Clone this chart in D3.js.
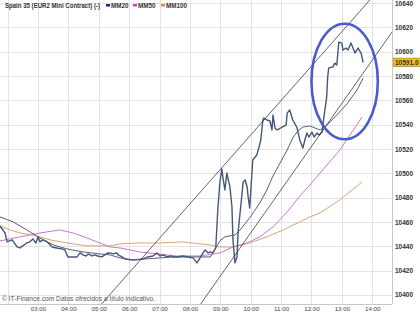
<!DOCTYPE html>
<html>
<head>
<meta charset="utf-8">
<script src="https://cdn.jsdelivr.net/npm/d3@7"></script>
<style>
  body { margin: 0; background: #fff; }
  svg { display: block; font-family: "Liberation Sans", Arial, sans-serif; }
</style>
</head>
<body>
<svg id="chart" width="420" height="315"></svg>
<script>
// price (last) series
const priceTimes = ["01:45","01:55","01:59","02:09","02:19","02:24","02:30","02:38","02:44","02:50","02:56","03:00","03:04","03:10","03:18","03:28","03:37","03:47","03:53","03:59","04:07","04:17","04:23","04:29","04:35","04:39","04:47","04:52","04:58","05:06","05:12","05:18","05:22","05:28","05:36","05:38","05:46","05:52","06:02","06:15","06:27","06:37","06:47","06:55","07:01","07:07","07:15","07:21","07:26","07:36","07:46","07:56","08:06","08:14","08:20","08:26","08:30","08:36","08:40","08:45","08:51","08:55","08:59","09:03","09:05","09:09","09:13","09:15","09:19","09:23","09:25","09:29","09:33","09:35","09:39","09:43","09:45","09:49","09:53","09:55","09:58","10:02","10:04","10:12","10:16","10:20","10:24","10:26","10:32","10:38","10:42","10:44","10:48","10:52","11:02","11:10","11:12","11:17","11:23","11:31","11:37","11:43","11:47","11:51","11:55","12:01","12:05","12:11","12:15","12:21","12:23","12:30","12:32","12:34","12:40","12:42","12:46","12:50","12:54","13:00","13:02","13:08","13:12","13:18","13:22","13:26","13:32","13:38","13:42"];
const priceValues = [10456.7,10450.9,10443.6,10445.2,10439.4,10438.6,10440.3,10442.7,10443.6,10446.0,10442.7,10447.7,10443.6,10445.2,10443.6,10439.4,10438.6,10437.8,10437.0,10431.2,10431.2,10431.2,10434.5,10432.9,10432.0,10433.7,10432.0,10432.9,10432.0,10431.2,10432.9,10434.5,10434.5,10433.7,10434.5,10432.9,10431.2,10429.6,10428.8,10428.8,10429.6,10431.2,10432.0,10434.5,10432.0,10432.9,10431.2,10432.0,10431.2,10431.2,10432.0,10431.2,10430.4,10426.3,10430.4,10434.5,10437.0,10434.5,10435.3,10434.5,10438.6,10469.8,10492.0,10503.5,10497.0,10486.3,10500.2,10496.1,10488.7,10472.3,10445.2,10426.3,10431.2,10450.9,10467.4,10483.8,10492.9,10494.5,10488.7,10480.5,10471.5,10497.0,10510.9,10515.0,10520.8,10527.4,10543.8,10545.4,10543.8,10543.0,10535.6,10547.9,10537.2,10535.6,10538.0,10539.7,10549.5,10552.0,10543.8,10538.0,10527.4,10520.8,10527.4,10533.1,10529.8,10533.9,10529.8,10533.1,10531.5,10533.9,10541.3,10562.7,10579.1,10586.5,10587.3,10587.3,10590.6,10589.0,10607.9,10607.1,10601.3,10603.0,10601.3,10607.1,10603.0,10598.9,10603.0,10598.9,10591.0];

// moving averages
const mm20Times = ["01:45","02:11","02:38","03:04","03:30","03:57","04:29","05:02","05:22","05:42","06:08","06:35","07:01","07:27","08:00","08:40","08:49","08:59","09:09","09:29","09:39","09:58","10:18","10:32","10:44","10:58","11:12","11:23","11:33","11:43","11:57","12:07","12:17","12:31","12:50","13:10","13:30","13:42"];
const mm20Values = [10464.1,10460.0,10453.4,10446.8,10441.1,10437.8,10435.3,10433.7,10432.9,10430.4,10428.8,10429.6,10430.4,10431.2,10431.2,10431.2,10437.0,10444.4,10447.7,10449.3,10453.4,10463.3,10475.6,10486.3,10497.8,10508.5,10519.1,10529.0,10534.8,10538.0,10538.9,10537.2,10535.6,10539.7,10547.9,10557.0,10568.5,10578.3];

const mm50Times = ["01:45","02:25","03:04","03:43","04:09","04:37","05:02","05:22","05:42","06:21","06:55","07:34","08:20","08:59","09:25","09:53","10:18","10:44","11:12","11:37","11:57","12:17","12:56","13:40"];
const mm50Values = [10444.4,10447.7,10450.9,10453.4,10450.9,10446.8,10442.7,10439.4,10438.6,10435.3,10433.7,10432.0,10432.0,10434.5,10439.4,10442.7,10447.7,10455.9,10468.2,10481.3,10490.4,10500.2,10519.1,10546.3];

const mm100Times = ["01:45","02:05","02:25","02:50","03:24","03:57","04:37","05:22","05:42","06:21","07:01","07:46","08:20","08:40","08:59","09:25","09:58","10:32","11:04","11:37","11:57","12:17","12:56","13:40"];
const mm100Values = [10456.7,10453.4,10450.9,10449.3,10445.2,10442.7,10440.3,10440.3,10441.9,10442.7,10442.7,10443.6,10441.9,10441.1,10439.4,10439.4,10442.7,10447.7,10453.4,10460.0,10464.1,10467.4,10478.1,10492.9];

// trend channel lines drawn on the chart
const upperTimes = ["05:04","13:55"];
const upperValues = [10391.8,10642.4];
const lowerTimes = ["08:20","14:39"];
const lowerValues = [10391.8,10616.1];

// hand-drawn highlight ellipse (bounding box)
const circleTimes = ["12:00","14:11"];
const circleValues = [10528,10623];

const yTicks = [10400,10420,10440,10460,10480,10500,10520,10540,10560,10580,10600,10620,10640];
const gridHours = ["02:00","03:00","04:00","05:00","06:00","07:00","08:00","09:00","10:00","11:00","12:00","13:00","14:00"];
const hourLabels = ["03:00","04:00","05:00","06:00","07:00","08:00","09:00","10:00","11:00","12:00","13:00","14:00"];

const legendNames = ["MM20","MM50","MM100"];
const legendColors = ["#1c1c8c","#d040d0","#e0884a"];
const lastPrice = "10591.0";

const parseT = s => { const [h, m] = s.split(":"); return +h * 60 + +m; };
const zip = (ts, vs) => ts.map((t, i) => ({ t: parseT(t), v: vs[i] }));

const svg = d3.select("#chart");
const W = 392, H = 304;

const x = d3.scaleLinear().domain([parseT("01:45"), parseT("14:39")]).range([0, W]);
const y = d3.scaleLinear().domain([10392.5, 10642.5]).range([H, 0]);

svg.append("defs").append("clipPath").attr("id", "plot-clip")
    .append("rect").attr("width", W).attr("height", H);

const plot = svg.append("g");

// grid
plot.selectAll("line.vgrid")
    .data(gridHours)
    .join("line")
    .attr("class", "vgrid")
    .attr("x1", d => Math.round(x(parseT(d))) + 0.5)
    .attr("x2", d => Math.round(x(parseT(d))) + 0.5)
    .attr("y1", 0).attr("y2", H)
    .attr("stroke", "#e3e3e3").attr("stroke-width", 1);

plot.selectAll("line.hgrid")
    .data(yTicks)
    .join("line")
    .attr("class", "hgrid")
    .attr("x1", 0).attr("x2", W)
    .attr("y1", d => Math.round(y(d)) + 0.5)
    .attr("y2", d => Math.round(y(d)) + 0.5)
    .attr("stroke", "#e3e3e3").attr("stroke-width", 1);

// frame right and bottom
plot.append("line").attr("x1", W + 0.5).attr("x2", W + 0.5).attr("y1", 0).attr("y2", H)
    .attr("stroke", "#c8c8c8");
plot.append("line").attr("x1", 0).attr("x2", W).attr("y1", H + 0.5).attr("y2", H + 0.5)
    .attr("stroke", "#c8c8c8");

const line = d3.line().x(d => x(d.t)).y(d => y(d.v));
const clipped = plot.append("g").attr("clip-path", "url(#plot-clip)");

clipped.append("path").datum(zip(mm100Times, mm100Values))
    .attr("d", line).attr("fill", "none")
    .attr("stroke", "#d9a577").attr("stroke-width", 1);

clipped.append("path").datum(zip(mm50Times, mm50Values))
    .attr("d", line).attr("fill", "none")
    .attr("stroke", "#c77ad0").attr("stroke-width", 1);

clipped.append("path").datum(zip(mm20Times, mm20Values))
    .attr("d", line).attr("fill", "none")
    .attr("stroke", "#4a4a6e").attr("stroke-width", 0.9);

clipped.append("path").datum(zip(priceTimes, priceValues))
    .attr("d", line).attr("fill", "none")
    .attr("stroke", "#45587a").attr("stroke-width", 1.4)
    .attr("stroke-linejoin", "round");

// channel lines, extended past the frame and clipped
function extend(ts, vs) {
    const p = zip(ts, vs);
    const k = (p[1].v - p[0].v) / (p[1].t - p[0].t);
    const t0 = p[0].t - 200, t1 = p[1].t + 200;
    return [{ t: t0, v: p[0].v + k * (t0 - p[0].t) }, { t: t1, v: p[0].v + k * (t1 - p[0].t) }];
}
[[upperTimes, upperValues], [lowerTimes, lowerValues]].forEach(([ts, vs]) => {
    clipped.append("path").datum(extend(ts, vs))
        .attr("d", line).attr("fill", "none")
        .attr("stroke", "#222").attr("stroke-width", 0.7);
});

// highlight ellipse
const ex0 = x(parseT(circleTimes[0])), ex1 = x(parseT(circleTimes[1]));
const ey0 = y(circleValues[1]), ey1 = y(circleValues[0]);
svg.append("ellipse")
    .attr("cx", (ex0 + ex1) / 2).attr("cy", (ey0 + ey1) / 2)
    .attr("rx", (ex1 - ex0) / 2).attr("ry", (ey1 - ey0) / 2)
    .attr("fill", "none").attr("stroke", "#4a5ccc").attr("stroke-width", 2.6);

// right axis
const yAxis = svg.append("g")
    .attr("transform", `translate(${W + 1},0)`)
    .call(d3.axisRight(y).tickValues(yTicks).tickSize(0).tickPadding(2).tickFormat(d3.format("d")));
yAxis.select(".domain").remove();
yAxis.selectAll("text")
    .attr("font-family", "'Liberation Sans', Arial, sans-serif")
    .attr("font-size", 6.5).attr("font-weight", "bold").attr("fill", "#333");

// bottom axis
const xAxis = svg.append("g")
    .attr("transform", `translate(0,${H})`)
    .call(d3.axisBottom(x).tickValues(hourLabels.map(parseT)).tickSize(0).tickPadding(3)
        .tickFormat((d, i) => hourLabels[i]));
xAxis.select(".domain").remove();
xAxis.selectAll("text")
    .attr("font-family", "'Liberation Sans', Arial, sans-serif")
    .attr("font-size", 6.2).attr("fill", "#445");

// last price tag
const tagY = y(priceValues[priceValues.length - 1]);
svg.append("rect")
    .attr("x", W + 1.5).attr("y", tagY - 4.5).attr("width", 30).attr("height", 8.5)
    .attr("fill", "#f3c11b").attr("stroke", "#9a7a10").attr("stroke-width", 0.6);
svg.append("text")
    .attr("x", W + 3).attr("y", tagY + 2.2)
    .attr("font-size", 6.5).attr("font-weight", "bold").attr("fill", "#333")
    .text(lastPrice);

// title + legend
svg.append("text")
    .attr("x", 5).attr("y", 7.5)
    .attr("font-size", 6.3).attr("font-weight", "bold").attr("fill", "#333")
    .attr("textLength", 95).attr("lengthAdjust", "spacingAndGlyphs")
    .text("Spain 35 (EUR2 Mini Contract) (-)");

const legendX = [106, 133, 161];
const lg = svg.selectAll("g.leg")
    .data(legendNames)
    .join("g")
    .attr("class", "leg")
    .attr("transform", (d, i) => `translate(${legendX[i]},0)`);
lg.append("rect").attr("x", 0).attr("y", 4).attr("width", 4).attr("height", 2.5)
    .attr("fill", (d, i) => legendColors[i]);
lg.append("text").attr("x", 5).attr("y", 7.5)
    .attr("font-size", 6.3).attr("font-weight", "bold").attr("fill", "#333")
    .text(d => d);

// footer
svg.append("text")
    .attr("x", 2).attr("y", 301)
    .attr("font-size", 6.5).attr("fill", "#555")
    .attr("textLength", 153).attr("lengthAdjust", "spacingAndGlyphs")
    .text("© IT-Finance.com Datos ofrecidos a título indicativo.");
</script>
</body>
</html>
